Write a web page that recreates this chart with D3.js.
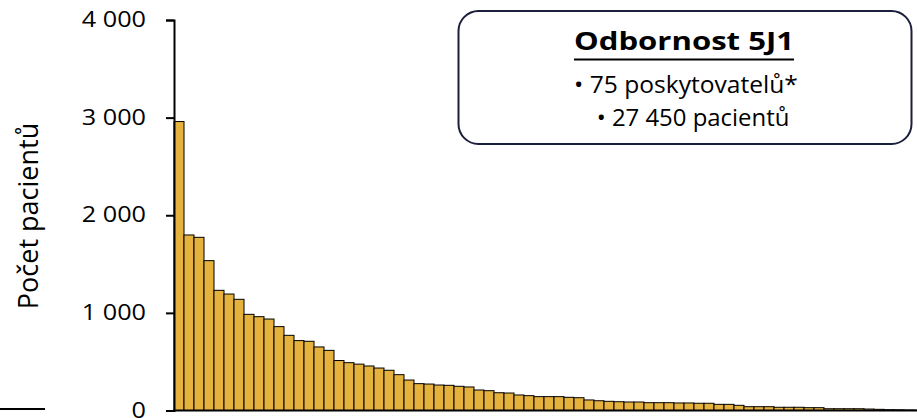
<!DOCTYPE html>
<html>
<head>
<meta charset="utf-8">
<script src="https://cdn.jsdelivr.net/npm/d3@7"></script>
<style>
  body { margin: 0; background: #fff; }
  svg { display: block; font-family: "Open Sans", sans-serif; }
</style>
</head>
<body>
<div id="chart"></div>
<script>
// patients per provider, sorted descending (75 providers)
const patients = [
  2960, 1798, 1774, 1535, 1231, 1193, 1139, 985, 961, 937,
  859, 770, 716, 709, 651, 616, 512, 490, 475, 456,
  435, 412, 367, 312, 275, 271, 261, 258, 248, 241,
  210, 203, 182, 179, 159, 152, 142, 142, 142, 135,
  131, 108, 100, 94, 90, 87, 87, 80, 80, 80,
  77, 77, 74, 74, 63, 63, 53, 39, 39, 39,
  33, 33, 33, 29, 29, 18, 18, 18, 18, 15,
  12, 8, 7, 5, 3
];
const providers = patients.map((d, i) => "P" + (i + 1));
const yTicks = [0, 1000, 2000, 3000, 4000];
const boxTitle = "Odbornost 5J1";
const boxLines = ["75 poskytovatelů*", "27 450 pacientů"];

const W = 917, H = 418;
const svg = d3.select("#chart").append("svg")
  .attr("width", W)
  .attr("height", H);

const x = d3.scaleBand()
  .domain(providers)
  .range([174, 924])
  .padding(0);

const y = d3.scaleLinear()
  .domain([0, 4000])
  .range([410.5, 20]);

const fmt = v => d3.format(",")(v).replace(/,/g, " ");

// bars
svg.append("g")
  .selectAll("rect")
  .data(patients)
  .join("rect")
  .attr("x", (d, i) => x(providers[i]))
  .attr("y", d => y(d))
  .attr("width", x.bandwidth())
  .attr("height", d => y(0) - y(d))
  .attr("fill", "#E6B23E")
  .attr("stroke", "#000")
  .attr("stroke-width", 1);

// y axis (text is a bit wide in the original, so stretch it)
const sx = 1.2;
const yAxis = svg.append("g")
  .attr("transform", "translate(174,0)")
  .call(d3.axisLeft(y).tickValues(yTicks).tickFormat(fmt).tickSizeOuter(0).tickSize(8));
yAxis.select(".domain").attr("stroke", "#000").attr("stroke-width", 2);
yAxis.selectAll(".tick line").attr("stroke", "#000").attr("stroke-width", 2);
yAxis.selectAll(".tick text")
  .attr("x", -28 / sx)
  .attr("transform", `scale(${sx},1)`)
  .attr("font-family", "Open Sans, sans-serif")
  .attr("font-size", 21)
  .attr("fill", "#000");

// x axis baseline
svg.append("line")
  .attr("x1", 173).attr("x2", W)
  .attr("y1", y(0)).attr("y2", y(0))
  .attr("stroke", "#000").attr("stroke-width", 2);

// stray line from neighbouring chart
svg.append("line")
  .attr("x1", 0).attr("x2", 45)
  .attr("y1", 409).attr("y2", 409)
  .attr("stroke", "#000").attr("stroke-width", 2);

// y label
svg.append("text")
  .attr("transform", "translate(38,216) rotate(-90)")
  .attr("text-anchor", "middle")
  .attr("font-size", 27)
  .attr("fill", "#000")
  .text("Počet pacientů");

// info box
const box = svg.append("g");
box.append("rect")
  .attr("x", 458.5).attr("y", 11)
  .attr("width", 453).attr("height", 133)
  .attr("rx", 20).attr("ry", 20)
  .attr("fill", "#fff")
  .attr("stroke", "#1B1F3B")
  .attr("stroke-width", 2);

function stretched(g, cx, cy, s, size, weight, txt) {
  return g.append("text")
    .attr("transform", `translate(${cx},${cy}) scale(${s},1)`)
    .attr("text-anchor", "middle")
    .attr("font-size", size)
    .attr("font-weight", weight)
    .attr("fill", "#000")
    .text(txt);
}

const title = stretched(box, 684, 50, 1.22, 25.5, "bold", boxTitle);
const tw = title.node().getComputedTextLength() * 1.22;
box.append("line")
  .attr("x1", 684 - tw / 2).attr("x2", 684 + tw / 2)
  .attr("y1", 59.5).attr("y2", 59.5)
  .attr("stroke", "#000").attr("stroke-width", 2);

stretched(box, 686, 92.5, 1.07, 23, "normal", "• " + boxLines[0]);
stretched(box, 693, 126, 1.04, 23, "normal", "• " + boxLines[1]);
</script>
</body>
</html>
